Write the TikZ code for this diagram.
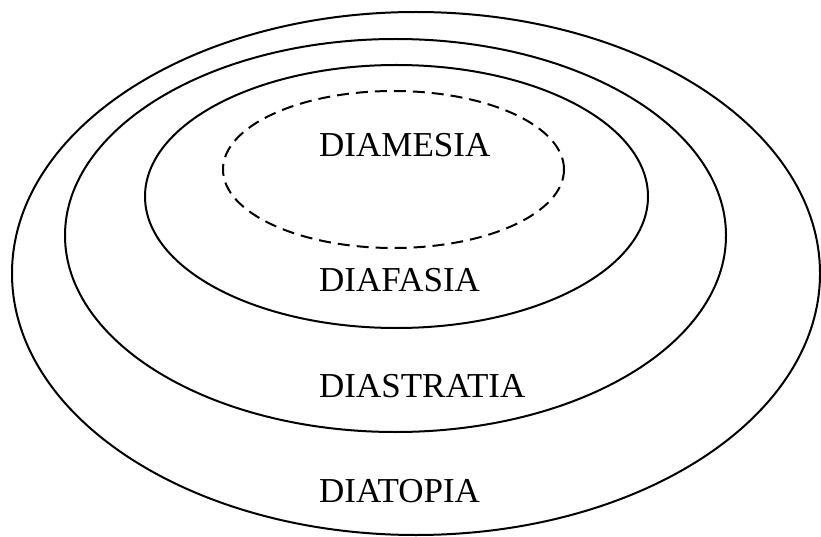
\documentclass[tikz,border=0pt]{standalone}
\usepackage{fontspec}
\setmainfont{Liberation Serif}
\begin{document}
\begin{tikzpicture}[
      x=1pt, y=1pt,
      every node/.style={font=\fontsize{35}{42}\selectfont},
      ring/.style={draw=black, line width=2pt},
      inner ring/.style={ring, dash pattern=on 12pt off 7pt},
      level/.style={anchor=base west, inner sep=0pt}
  ]
    \useasboundingbox (0,0) rectangle (821,-537);

    \draw[ring] (416,-273.5) ellipse [x radius=404, y radius=261.5];
    \draw[ring] (395.5,-235.5) ellipse [x radius=330.5, y radius=196.5];
    \draw[ring] (396.5,-196.5) ellipse [x radius=251.5, y radius=131.5];
    \draw[inner ring] (393.5,-169.5) ellipse [x radius=170.5, y radius=78.5];

    \node[level] (diamesia) at (319,-157) {DIAMESIA};
    \node[level] (diafasia) at (319,-291) {DIAFASIA};
    \node[level] (diastratia) at (319,-397) {DIASTRATIA};
    \node[level] (diatopia) at (319,-502) {DIATOPIA};
  \end{tikzpicture}
\end{document}
